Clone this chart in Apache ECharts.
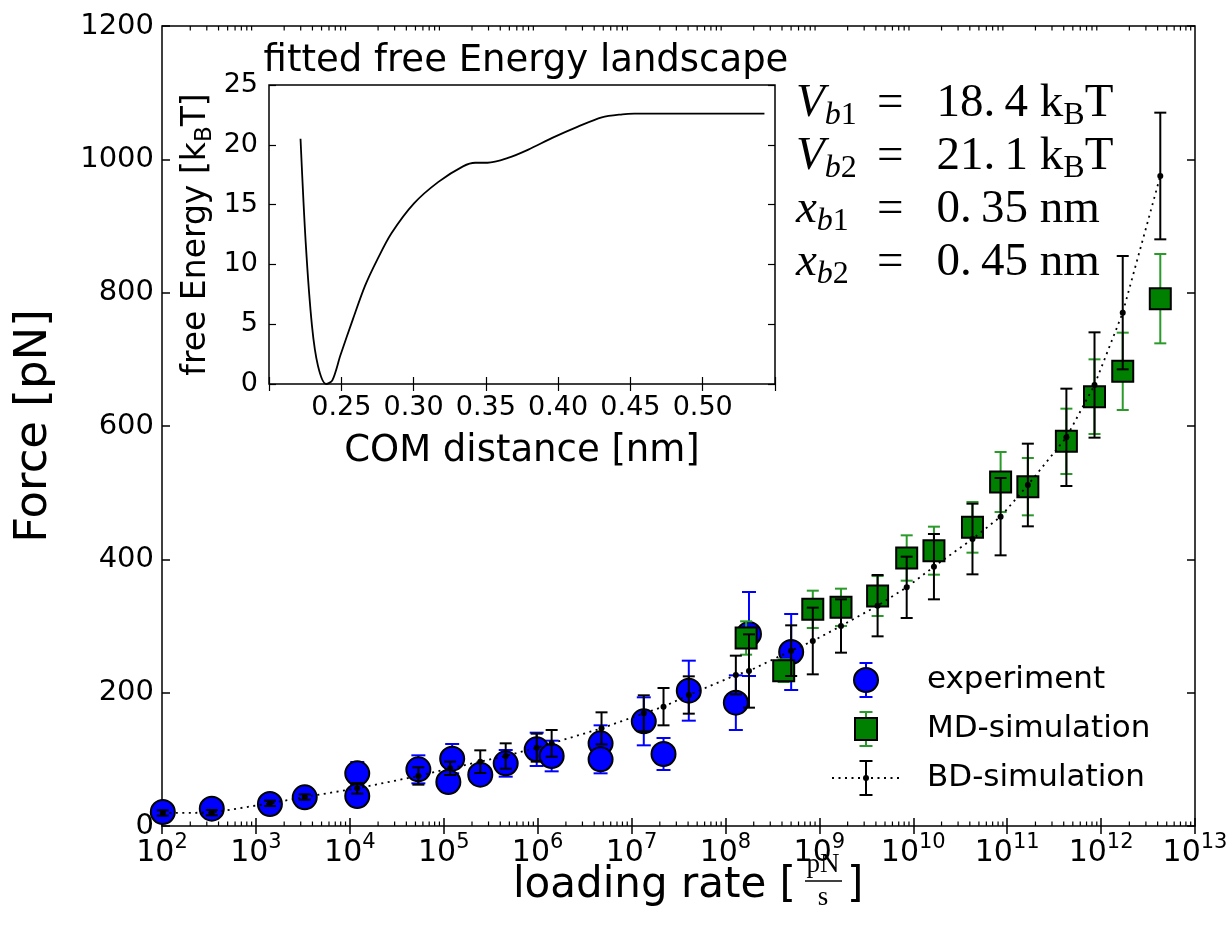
<!DOCTYPE html>
<html><head><meta charset="utf-8">
<script src="https://cdn.jsdelivr.net/npm/echarts@6/dist/echarts.min.js"></script>
<style>html,body{margin:0;padding:0;background:#fff}#c{width:1232px;height:939px}</style>
</head><body><div id="c"></div>
<script>
// ---- data (loading rate in pN/s, force in pN) ----
const expRate  = [1.02e2, 3.39e2, 1.41e3, 3.31e3, 1.20e4, 1.20e4, 5.37e4, 1.23e5, 1.12e5, 2.45e5, 4.57e5, 9.77e5, 1.41e6, 4.68e6, 4.68e6, 1.35e7, 2.19e7, 4.07e7, 1.29e8, 1.78e8, 5.01e8];
const expForce = [21, 26, 33, 43, 79, 45, 85, 101, 66, 77, 94, 115, 105, 124, 100, 157, 108, 203, 185, 288, 261];
const expErr   = [5, 5, 5, 5, 17, 8, 21, 22, 8, 12, 20, 25, 23, 27, 21, 36, 24, 45, 41, 63, 57];

const mdRate  = [1.66e8, 4.17e8, 8.51e8, 1.70e9, 4.17e9, 8.51e9, 1.66e10, 4.27e10, 8.51e10, 1.66e11, 4.27e11, 8.51e11, 1.70e12, 4.27e12];
const mdForce = [282, 233, 325, 328, 345, 402, 413, 448, 516, 509, 577, 644, 682, 791];
const mdErr   = [25, 17, 28, 28, 30, 34, 36, 38, 45, 43, 49, 56, 58, 67];

const bdRate  = [1.02e2, 3.39e2, 1.41e3, 3.31e3, 1.20e4, 5.37e4, 1.17e5, 2.45e5, 4.57e5, 9.77e5, 1.41e6, 4.79e6, 1.35e7, 2.19e7, 4.07e7, 1.29e8, 1.78e8, 5.01e8, 8.51e8, 1.70e9, 4.17e9, 8.51e9, 1.66e10, 4.27e10, 8.51e10, 1.66e11, 4.27e11, 8.51e11, 1.70e12, 4.27e12];
const bdForce = [19.5, 20, 34, 43.5, 56.5, 75, 86.5, 96.5, 105, 117.5, 124, 146.5, 169, 179, 196.5, 226.5, 232.5, 263, 277.5, 300, 330.5, 358, 389, 430.5, 464, 511.5, 583, 661.5, 770, 975];
const bdErr   = [4, 4, 4, 4, 8, 13, 10, 17, 19, 21, 20, 24, 27, 28, 28, 29, 55, 38, 50, 40, 46, 46, 49, 53, 58, 62, 73, 79, 85, 95];

// inset: fitted free energy landscape
const feDist   = [0.2218, 0.2254, 0.2297, 0.2339, 0.2395, 0.2438, 0.2494, 0.258, 0.2664, 0.2749, 0.2847, 0.3003, 0.3172, 0.3342, 0.3427, 0.3511, 0.3653, 0.3794, 0.3963, 0.4133, 0.4302, 0.4444, 0.4528, 0.5427];
const feEnergy = [20.5, 11.8, 4.9, 1.5, 0, 0.3, 2.4, 5.4, 8.2, 10.4, 12.6, 15.1, 16.9, 18.2, 18.5, 18.5, 18.9, 19.6, 20.6, 21.5, 22.3, 22.55, 22.6, 22.6];

// axis ranges / ticks
const rateExpMin = 2, rateExpMax = 13;
const forceMin = 0, forceMax = 1200, forceStep = 200;
const distMin = 0.2, distMax = 0.55, distStep = 0.05;
const energyMin = 0, energyMax = 25, energyStep = 5;

const seriesNames = ['experiment', 'MD-simulation', 'BD-simulation'];
// [symbol, sub letter, sub digit, value text, unit-sub, unit-end]
const annotLines = [['V', 'b', '1', '18.\u20094 k', 'B', 'T'], ['V', 'b', '2', '21.\u20091 k', 'B', 'T'], ['x', 'b', '1', '0.\u200935 nm', '', ''], ['x', 'b', '2', '0.\u200945 nm', '', '']];

// ---- build ----
const L = Math.log10;
const toXY = (r, f) => r.map((v, i) => [L(v), f[i]]);
const toErr = (r, f, e) => r.map((v, i) => [L(v), f[i], e[i]]);

const minorTicks = [];
for (let d = rateExpMin; d < rateExpMax; d++) for (let k = 2; k <= 9; k++) minorTicks.push([d + L(k), 0]);

function errRender(color, cap, lw) {
  return function (params, api) {
    const x = api.value(0), y = api.value(1), e = api.value(2);
    const lo = api.coord([x, y - e]), hi = api.coord([x, y + e]);
    const st = { stroke: color, lineWidth: lw };
    return { type: 'group', children: [
      { type: 'line', shape: { x1: lo[0], y1: lo[1], x2: hi[0], y2: hi[1] }, style: st },
      { type: 'line', shape: { x1: lo[0] - cap, y1: lo[1], x2: lo[0] + cap, y2: lo[1] }, style: st },
      { type: 'line', shape: { x1: hi[0] - cap, y1: hi[1], x2: hi[0] + cap, y2: hi[1] }, style: st }
    ]};
  };
}

const SANS = 'DejaVu Sans';
const SERIF = 'Liberation Serif';
const tickStyle = { inside: true, length: 8, lineStyle: { color: '#000', width: 1.5 } };
const insetTick = { inside: true, length: 7, lineStyle: { color: '#000', width: 1.2 } };

const chart = echarts.init(document.getElementById('c'), null, { renderer: 'canvas' });

const graphics = [];
// x-axis name with fraction
graphics.push({ type: 'text', x: 796, y: 886, style: { text: 'loading rate [', font: '42px "DejaVu Sans"', fill: '#000', align: 'right', verticalAlign: 'middle' } });
graphics.push({ type: 'text', x: 823, y: 865, style: { text: 'pN', font: '27px "Liberation Serif"', fill: '#000', align: 'center', verticalAlign: 'middle' } });
graphics.push({ type: 'line', shape: { x1: 805, y1: 881, x2: 842, y2: 881 }, style: { stroke: '#000', lineWidth: 1.5 } });
graphics.push({ type: 'text', x: 823, y: 898, style: { text: 's', font: '27px "Liberation Serif"', fill: '#000', align: 'center', verticalAlign: 'middle' } });
graphics.push({ type: 'text', x: 847, y: 886, style: { text: ']', font: '42px "DejaVu Sans"', fill: '#000', align: 'left', verticalAlign: 'middle' } });

// annotation block
const annotRich = {
  v: { fontFamily: SERIF, fontStyle: 'italic', fontSize: 47, lineHeight: 52, verticalAlign: 'top' },
  si: { fontFamily: SERIF, fontStyle: 'italic', fontSize: 32, lineHeight: 30, verticalAlign: 'bottom' },
  su: { fontFamily: SERIF, fontSize: 32, lineHeight: 30, verticalAlign: 'bottom' },
  n: { fontFamily: SERIF, fontSize: 47, lineHeight: 52, verticalAlign: 'top' },
  b: { fontFamily: SERIF, fontSize: 32, lineHeight: 30, verticalAlign: 'bottom' }
};
annotLines.forEach((ln, i) => {
  const left = '{v|' + ln[0] + '}{si|' + ln[1] + '}{su|' + ln[2] + '}';
  const right = '{n|=\u2002\u2009' + ln[3] + '}' + (ln[4] ? '{b|' + ln[4] + '}{n|' + ln[5] + '}' : '');
  const y = 106 + i * 53;
  graphics.push({ type: 'text', x: 796, y: y, style: { text: left, verticalAlign: 'middle', align: 'left', fill: '#000', rich: annotRich } });
  graphics.push({ type: 'text', x: 877, y: y, style: { text: right, verticalAlign: 'middle', align: 'left', fill: '#000', rich: annotRich } });
});

// legend
const lx = 866, ly = [680, 729, 778], cap = 6.5;
function barGlyph(y, color, half) {
  return [
    { type: 'line', shape: { x1: lx, y1: y - half, x2: lx, y2: y + half }, style: { stroke: color, lineWidth: 2 } },
    { type: 'line', shape: { x1: lx - cap, y1: y - half, x2: lx + cap, y2: y - half }, style: { stroke: color, lineWidth: 2 } },
    { type: 'line', shape: { x1: lx - cap, y1: y + half, x2: lx + cap, y2: y + half }, style: { stroke: color, lineWidth: 2 } }
  ];
}
graphics.push(...barGlyph(ly[0], '#0000ff', 17));
graphics.push({ type: 'circle', shape: { cx: lx, cy: ly[0], r: 12 }, style: { fill: '#0000ff', stroke: '#000', lineWidth: 2 } });
graphics.push(...barGlyph(ly[1], '#2a9a2a', 17));
graphics.push({ type: 'rect', shape: { x: lx - 11, y: ly[1] - 11, width: 22, height: 22 }, style: { fill: '#008000', stroke: '#000', lineWidth: 2 } });
graphics.push({ type: 'line', shape: { x1: 832, y1: ly[2], x2: 900, y2: ly[2] }, style: { stroke: '#000', lineWidth: 1.8, lineDash: [2, 4.5] } });
graphics.push(...barGlyph(ly[2], '#000', 17));
graphics.push({ type: 'circle', shape: { cx: lx, cy: ly[2], r: 3 }, style: { fill: '#000' } });
seriesNames.forEach((n, i) => graphics.push({ type: 'text', x: 927, y: ly[i], style: { text: n, font: '31px "DejaVu Sans"', fill: '#000', verticalAlign: 'middle' } }));

const supLabel = v => '{b|10}{e|' + Math.round(v) + '}';

chart.setOption({
  animation: false,
  backgroundColor: '#fff',
  title: { text: 'fitted free Energy landscape', left: 521, top: 38, textAlign: 'center',
    textStyle: { fontFamily: SANS, fontSize: 37, fontWeight: 'normal', color: '#000' } },
  grid: [
    { left: 162, top: 26, right: 37, bottom: 113, show: true, borderColor: '#000', borderWidth: 1.5, backgroundColor: 'transparent' },
    { left: 269, top: 85, width: 506, height: 299, show: true, borderColor: '#000', borderWidth: 1.5, backgroundColor: '#fff' }
  ],
  xAxis: [
    { type: 'value', gridIndex: 0, position: 'bottom', min: rateExpMin, max: rateExpMax, interval: 1,
      axisLine: { show: false }, axisTick: tickStyle, splitLine: { show: false },
      axisLabel: { margin: 6, color: '#000', formatter: supLabel,
        rich: { b: { fontFamily: SANS, fontSize: 30, lineHeight: 36, verticalAlign: 'bottom' }, e: { fontFamily: SANS, fontSize: 21, lineHeight: 21, verticalAlign: 'top' } } } },
    { type: 'value', gridIndex: 0, position: 'top', min: rateExpMin, max: rateExpMax, interval: 1,
      axisLine: { show: false }, axisTick: tickStyle, axisLabel: { show: false }, splitLine: { show: false } },
    { type: 'value', gridIndex: 1, position: 'bottom', min: distMin, max: distMax, interval: distStep,
      axisLine: { show: false }, axisTick: insetTick, splitLine: { show: false },
      axisLabel: { margin: 10, color: '#000', fontFamily: SANS, fontSize: 27,
        formatter: v => (Math.abs(v - distMin) < 1e-6 || Math.abs(v - distMax) < 1e-6) ? '' : v.toFixed(2) },
      name: 'COM distance [nm]', nameLocation: 'middle', nameGap: 49,
      nameTextStyle: { fontFamily: SANS, fontSize: 37, color: '#000' } },
    { type: 'value', gridIndex: 1, position: 'top', min: distMin, max: distMax, interval: distStep,
      axisLine: { show: false }, axisTick: insetTick, axisLabel: { show: false }, splitLine: { show: false } }
  ],
  yAxis: [
    { type: 'value', gridIndex: 0, position: 'left', min: forceMin, max: forceMax, interval: forceStep,
      axisLine: { show: false }, axisTick: tickStyle, splitLine: { show: false },
      axisLabel: { margin: 8, color: '#000', fontFamily: SANS, fontSize: 29, formatter: v => String(v) },
      name: 'Force [pN]', nameLocation: 'middle', nameGap: 105, nameRotate: 90,
      nameTextStyle: { fontFamily: SANS, fontSize: 45, color: '#000' } },
    { type: 'value', gridIndex: 0, position: 'right', min: forceMin, max: forceMax, interval: forceStep,
      axisLine: { show: false }, axisTick: tickStyle, axisLabel: { show: false }, splitLine: { show: false } },
    { type: 'value', gridIndex: 1, position: 'left', min: energyMin, max: energyMax, interval: energyStep,
      axisLine: { show: false }, axisTick: insetTick, splitLine: { show: false },
      axisLabel: { margin: 11, color: '#000', fontFamily: SANS, fontSize: 27, formatter: v => String(v) },
      name: '{t|free Energy [k}{s|B}{t|T]}', nameLocation: 'middle', nameGap: 52, nameRotate: 90,
      nameTextStyle: { color: '#000', rich: {
        t: { fontFamily: SANS, fontSize: 33, lineHeight: 37, verticalAlign: 'top' },
        s: { fontFamily: SANS, fontSize: 23, lineHeight: 23, verticalAlign: 'bottom' } } } },
    { type: 'value', gridIndex: 1, position: 'right', min: energyMin, max: energyMax, interval: energyStep,
      axisLine: { show: false }, axisTick: insetTick, axisLabel: { show: false }, splitLine: { show: false } }
  ],
  series: [
    { type: 'custom', name: 'minor', xAxisIndex: 0, yAxisIndex: 0, silent: true, z: 1, data: minorTicks,
      renderItem: (p, api) => {
        const b = api.coord([api.value(0), forceMin]), t = api.coord([api.value(0), forceMax]);
        const st = { stroke: '#000', lineWidth: 1.2 };
        return { type: 'group', children: [
          { type: 'line', shape: { x1: b[0], y1: b[1], x2: b[0], y2: b[1] - 4.5 }, style: st },
          { type: 'line', shape: { x1: t[0], y1: t[1], x2: t[0], y2: t[1] + 4.5 }, style: st }
        ]};
      } },
    { type: 'custom', name: 'experiment-err', xAxisIndex: 0, yAxisIndex: 0, z: 2, silent: true,
      data: toErr(expRate, expForce, expErr), renderItem: errRender('#0000ff', 7, 2) },
    { type: 'scatter', name: 'experiment', xAxisIndex: 0, yAxisIndex: 0, z: 3, data: toXY(expRate, expForce),
      symbol: 'circle', symbolSize: 24, itemStyle: { color: '#0000ff', borderColor: '#000', borderWidth: 2, opacity: 1 } },
    { type: 'custom', name: 'md-err', xAxisIndex: 0, yAxisIndex: 0, z: 4, silent: true,
      data: toErr(mdRate, mdForce, mdErr), renderItem: errRender('#2a9a2a', 6, 2) },
    { type: 'scatter', name: 'MD-simulation', xAxisIndex: 0, yAxisIndex: 0, z: 5, data: toXY(mdRate, mdForce),
      symbol: 'rect', symbolSize: 21, itemStyle: { color: '#008000', borderColor: '#000', borderWidth: 2, opacity: 1 } },
    { type: 'line', name: 'BD-line', xAxisIndex: 0, yAxisIndex: 0, z: 6, data: toXY(bdRate, bdForce), symbol: 'none',
      lineStyle: { color: '#000', width: 1.8, type: [2, 4.5] }, silent: true },
    { type: 'custom', name: 'bd-err', xAxisIndex: 0, yAxisIndex: 0, z: 7, silent: true,
      data: toErr(bdRate, bdForce, bdErr), renderItem: errRender('#000', 6, 2) },
    { type: 'scatter', name: 'BD-simulation', xAxisIndex: 0, yAxisIndex: 0, z: 8, data: toXY(bdRate, bdForce),
      symbol: 'circle', symbolSize: 6, itemStyle: { color: '#000', opacity: 1 } },
    { type: 'line', name: 'free energy', xAxisIndex: 2, yAxisIndex: 2, z: 3,
      data: feDist.map((d, i) => [d, feEnergy[i]]), symbol: 'none', smooth: 0.3,
      lineStyle: { color: '#000', width: 1.8 } }
  ],
  graphic: graphics
});
</script>
</body></html>
